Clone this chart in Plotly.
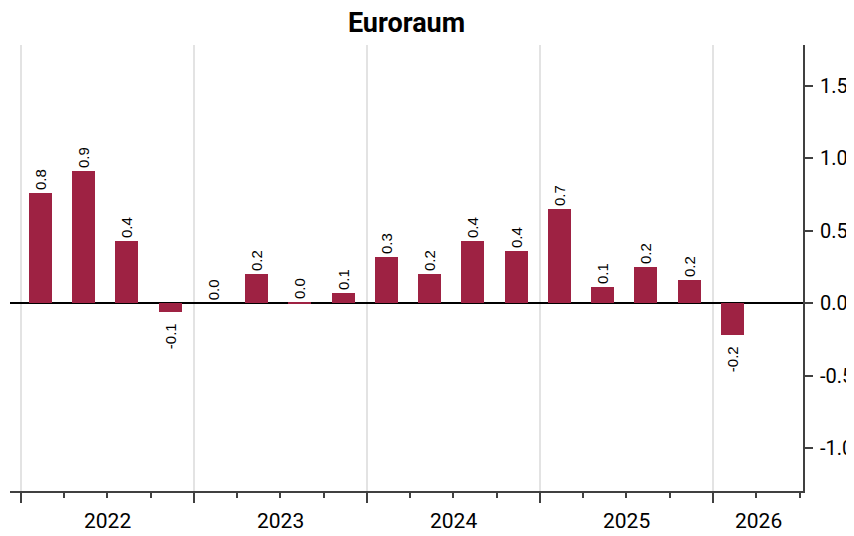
"""
Euroraum - quarterly bar chart (q/q change), recreated with Plotly.
"""

import plotly.graph_objects as go

# Quarterly values (2022Q1 .. 2026Q1)
QUARTERS = [
    "2022Q1", "2022Q2", "2022Q3", "2022Q4",
    "2023Q1", "2023Q2", "2023Q3", "2023Q4",
    "2024Q1", "2024Q2", "2024Q3", "2024Q4",
    "2025Q1", "2025Q2", "2025Q3", "2025Q4",
    "2026Q1",
]
VALUES = [
    0.76, 0.91, 0.43, -0.06,
    0.0, 0.20, 0.01, 0.07,
    0.32, 0.20, 0.43, 0.36,
    0.65, 0.11, 0.25, 0.16,
    -0.22,
]
YEARS = ["2022", "2023", "2024", "2025", "2026"]
Y_TICKS = [-1.0, -0.5, 0.0, 0.5, 1.0, 1.5]
Y_TICK_TEXT = ["-1.0", "-0.5", "0.0", "0.5", "1.0", "1.5"]

BAR_COLOR = "#9E2243"
AXIS_COLOR = "#404040"
NARROW = "Roboto, Liberation Sans, sans-serif"

# x positions: one unit per quarter, bars sit slightly left of quarter centre
x_pos = [i + 0.45 for i in range(len(QUARTERS))]
# negative labels sit a bit further from the bar end in the original
labels = [f"{v:.1f}" + ("\u00a0\u00a0" if v < 0 else "") for v in VALUES]
year_starts = [4 * i for i in range(len(YEARS))]
quarter_marks = [q for q in range(0, 19) if q % 4 != 0]
x_range = [-0.25, 18.08]

fig = go.Figure()
fig.add_trace(go.Bar(
    x=x_pos,
    y=VALUES,
    width=0.53,
    marker=dict(color=BAR_COLOR, line=dict(width=0)),
    text=labels,
    textposition="outside",
    textangle=-90,
    constraintext="none",
    textfont=dict(family="Liberation Sans, Arial, sans-serif", size=15, color="black"),
    cliponaxis=False,
    hovertext=QUARTERS,
))

# Year labels centred within the visible part of each year
annotations = []
for i, yr in enumerate(YEARS):
    lo = max(year_starts[i], x_range[0])
    hi = min(year_starts[i] + 4, x_range[1])
    annotations.append(dict(
        x=(lo + hi) / 2, y=0, xref="x", yref="paper",
        text=yr, showarrow=False, yanchor="top", yshift=-16,
        font=dict(family=NARROW, size=21, color="black"),
    ))

# the page body adds an 8px offset, margins are shifted to compensate
fig.update_layout(
    width=854,
    height=536,
    margin=dict(l=2, r=59, t=37, b=53),
    paper_bgcolor="white",
    plot_bgcolor="white",
    showlegend=False,
    bargap=0,
    title=dict(
        text="<b>Euroraum</b>",
        x=0.5, xref="paper", xanchor="center",
        y=0.972, yref="container", yanchor="middle",
        font=dict(family=NARROW, size=27, color="black"),
    ),
    annotations=annotations,
    xaxis=dict(
        range=x_range,
        tickvals=year_starts,
        showticklabels=False,
        ticks="outside",
        ticklen=10,
        tickwidth=2,
        tickcolor=AXIS_COLOR,
        showgrid=True,
        gridcolor="#E3E3E3",
        gridwidth=1.5,
        zeroline=False,
        showline=True,
        linecolor=AXIS_COLOR,
        linewidth=2,
        minor=dict(
            tickvals=quarter_marks,
            ticks="outside",
            ticklen=5,
            tickwidth=1.5,
            tickcolor=AXIS_COLOR,
            showgrid=False,
        ),
    ),
    yaxis=dict(
        side="right",
        range=[-1.293, 1.78],
        tickvals=Y_TICKS,
        ticktext=Y_TICK_TEXT,
        ticks="outside",
        ticklen=8,
        tickwidth=2,
        tickcolor=AXIS_COLOR,
        ticklabelstandoff=3,
        tickfont=dict(family=NARROW, size=20, color="black"),
        showgrid=False,
        zeroline=True,
        zerolinecolor="black",
        zerolinewidth=1.5,
        showline=True,
        linecolor=AXIS_COLOR,
        linewidth=2,
        automargin=False,
    ),
)

fig.write_html("out.html")
